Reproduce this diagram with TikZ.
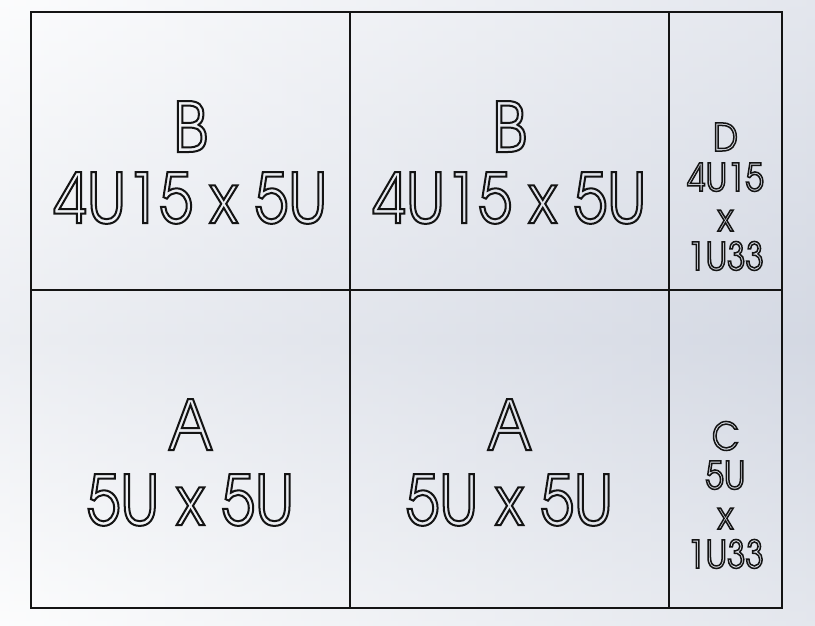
\documentclass[tikz,border=0pt]{standalone}
\usepackage{fontspec}
\newfontfamily\adv[FakeStretch=0.87]{texgyreadventor-regular.otf}
\newcommand{\outl}[1]{\special{pdf:literal direct 1 Tr 2 w}#1\special{pdf:literal direct 0 Tr}}
\newcommand{\outls}[1]{\special{pdf:literal direct 1 Tr 1.5 w}#1\special{pdf:literal direct 0 Tr}}
\definecolor{ink}{HTML}{141414}
\definecolor{bgtop}{HTML}{F8F9FB}
\definecolor{bgmid}{HTML}{D9DDE6}
\definecolor{bgbot}{HTML}{F9FAFB}
\definecolor{bgblue}{HTML}{D0D5E1}
\begin{document}
\begin{tikzpicture}[x=1pt,y=-1pt,
  big/.style={anchor=base, inner sep=0pt, text=ink, font=\adv\fontsize{69}{72}\selectfont},
  small/.style={anchor=base, inner sep=0pt, text=ink, font=\adv\fontsize{38}{40}\selectfont},
  grid/.style={draw=ink, line width=1.5pt}]
\useasboundingbox (0,0) rectangle (815,625);
% background
\shade[top color=bgtop, bottom color=bgmid] (0,0) rectangle (815,340);
\shade[top color=bgmid, bottom color=bgbot] (0,340) rectangle (815,625);
\shade[left color=white, right color=bgblue, fill opacity=0.5] (0,0) rectangle (815,625);
% cell corners
\coordinate (tl) at (31,12);
\coordinate (br) at (782,608);
\coordinate (v1t) at (350,12);
\coordinate (v1b) at (350,608);
\coordinate (v2t) at (669,12);
\coordinate (v2b) at (669,608);
\coordinate (hl) at (31,290);
\coordinate (hr) at (782,290);
\draw[grid] (tl) rectangle (br);
\draw[grid] (v1t) -- (v1b);
\draw[grid] (v2t) -- (v2b);
\draw[grid] (hl) -- (hr);
% top-left cell
\node[big] (b1a) at (190.5,152) {\outl{B}};
\node[big] (b1b) at (190.5,223) {\outl{4U15 x 5U}};
% top-middle cell
\node[big] (b2a) at (509.5,152) {\outl{B}};
\node[big] (b2b) at (509.5,223) {\outl{4U15 x 5U}};
% bottom-left cell
\node[big] (a1a) at (190.5,450) {\outl{A}};
\node[big] (a1b) at (190.5,525) {\outl{5U x 5U}};
% bottom-middle cell
\node[big] (a2a) at (509.5,450) {\outl{A}};
\node[big] (a2b) at (509.5,525) {\outl{5U x 5U}};
% top-right cell
\node[small] (d1) at (725.5,151) {\outls{D}};
\node[small] (d2) at (725.5,191) {\outls{4U15}};
\node[small] (d3) at (725.5,231) {\outls{x}};
\node[small] (d4) at (725.5,270) {\outls{1U33}};
% bottom-right cell
\node[small] (c1) at (725.5,450) {\outls{C}};
\node[small] (c2) at (725.5,489) {\outls{5U}};
\node[small] (c3) at (725.5,529) {\outls{x}};
\node[small] (c4) at (725.5,568) {\outls{1U33}};
\end{tikzpicture}
\end{document}
